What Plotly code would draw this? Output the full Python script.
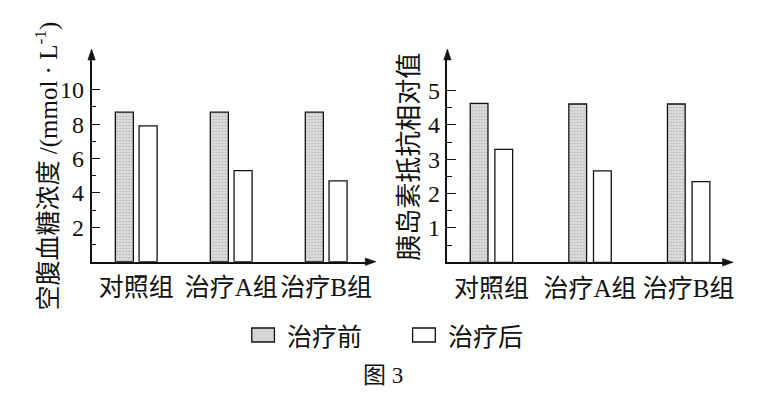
import plotly.graph_objects as go

groups = ["对照组", "治疗A组", "治疗B组"]
series_names = ["治疗前", "治疗后"]
glucose_before = [8.7, 8.7, 8.7]
glucose_after = [7.9, 5.3, 4.7]
insulin_before = [4.63, 4.61, 4.61]
insulin_after = [3.29, 2.66, 2.35]
glucose_ticks = [2, 4, 6, 8, 10]
insulin_ticks = [1, 2, 3, 4, 5]

OFF = 8  # page body margin
W, H = 777 - 2 * OFF, 398 - 2 * OFF
MIX = "Liberation Serif, Noto Sans CJK SC"
CJK = "Noto Sans CJK SC"
INK = "#111"


def px_x(p):
    return (p - OFF) / W


def px_y(p):
    return 1 - (p - OFF) / H


fig = go.Figure()

gray_marker = dict(color="#d4d4d4", line=dict(color=INK, width=1.3),
                   pattern=dict(shape=".", size=3, solidity=0.25, fgcolor="#8a8a8a", bgcolor="#dcdcdc"))
white_marker = dict(color="white", line=dict(color=INK, width=1.3))

fig.add_trace(go.Bar(x=groups, y=glucose_before, name=series_names[0], marker=gray_marker,
                     xaxis="x", yaxis="y", showlegend=False, offsetgroup="a", width=0.19))
fig.add_trace(go.Bar(x=groups, y=glucose_after, name=series_names[1], marker=white_marker,
                     xaxis="x", yaxis="y", showlegend=False, offsetgroup="b", width=0.19))
fig.add_trace(go.Bar(x=groups, y=insulin_before, name=series_names[0], marker=gray_marker,
                     xaxis="x2", yaxis="y2", showlegend=False, offsetgroup="a", width=0.18))
fig.add_trace(go.Bar(x=groups, y=insulin_after, name=series_names[1], marker=white_marker,
                     xaxis="x2", yaxis="y2", showlegend=False, offsetgroup="b", width=0.18))

axis_common = dict(showline=True, linecolor=INK, linewidth=1.5, showgrid=False, zeroline=False)
xtick_font = dict(family=MIX, size=25, color=INK)
ytick_font = dict(family="Liberation Serif", size=24, color=INK)

L_X0, L_X1, L_Y0, L_Y1 = 92.7, 372, 261.7, 58
R_X0, R_X1, R_Y0, R_Y1 = 453.3, 734, 262.3, 58

fig.update_layout(
    width=W, height=H, margin=dict(l=0, r=0, t=0, b=0),
    paper_bgcolor="white", plot_bgcolor="white",
    barmode="group", bargap=0.5, bargroupgap=0.0,
    font=dict(family=MIX, color=INK),
    xaxis=dict(domain=[px_x(L_X0), px_x(L_X1)], range=[-0.47, 2.53 - 0.098], ticks="", ticklabelstandoff=3,
               tickfont=xtick_font, **axis_common),
    yaxis=dict(domain=[px_y(L_Y0), px_y(L_Y1)], range=[0, 11.85], tickvals=glucose_ticks,
               ticks="inside", ticklen=9, tickwidth=1.3, tickcolor=INK, ticklabelstandoff=1,
               tickfont=ytick_font,
               minor=dict(tickvals=[1, 3, 5, 7, 9], ticks="inside", ticklen=5, tickwidth=1.2, tickcolor=INK),
               **axis_common),
    xaxis2=dict(domain=[px_x(R_X0), px_x(R_X1)], range=[-0.446, 2.45 - 0.087], ticks="", ticklabelstandoff=3,
                anchor="y2", tickfont=xtick_font, **axis_common),
    yaxis2=dict(domain=[px_y(R_Y0), px_y(R_Y1)], range=[0, 5.95], tickvals=insulin_ticks, anchor="x2",
                ticks="inside", ticklen=9, tickwidth=1.3, tickcolor=INK, ticklabelstandoff=1,
                tickfont=ytick_font,
                minor=dict(tickvals=[0.5, 1.5, 2.5, 3.5, 4.5], ticks="inside", ticklen=5, tickwidth=1.2, tickcolor=INK),
                **axis_common),
)


def tri(points):
    d = "M " + " L ".join(f"{px_x(x):.5f},{px_y(y):.5f}" for x, y in points) + " Z"
    return d


# axis arrows (triangles)
for (x0, y0, x1, y1) in [(L_X0, L_Y0, L_X1, L_Y1), (R_X0, R_Y0, R_X1, R_Y1)]:
    fig.add_shape(type="path", xref="paper", yref="paper", fillcolor=INK, line=dict(color=INK, width=0.5),
                  path=tri([(x0, y1 - 9), (x0 - 3.8, y1 + 2), (x0 + 3.8, y1 + 2)]))
    fig.add_shape(type="path", xref="paper", yref="paper", fillcolor=INK, line=dict(color=INK, width=0.5),
                  path=tri([(x1 + 9, y0), (x1 - 2, y0 - 3.8), (x1 - 2, y0 + 3.8)]))

# axis titles
fig.add_annotation(x=px_x(47), y=px_y(166), xref="paper", yref="paper", showarrow=False, textangle=-90,
                   xanchor="center", yanchor="middle",
                   text="空腹血糖浓度 /(mmol · L<sup>-1</sup>)", font=dict(family=MIX, size=25, color=INK))
fig.add_annotation(x=px_x(412), y=px_y(157), xref="paper", yref="paper", showarrow=False, textangle=-90,
                   xanchor="center", yanchor="middle",
                   text="胰岛素抵抗相对值", font=dict(family=CJK, size=26, color=INK))

# legend
fig.add_shape(type="rect", xref="paper", yref="paper", x0=px_x(255), x1=px_x(278), y0=px_y(342), y1=px_y(328),
              fillcolor="#d4d4d4", line=dict(color=INK, width=1.3))
fig.add_shape(type="rect", xref="paper", yref="paper", x0=px_x(418), x1=px_x(441), y0=px_y(342), y1=px_y(328),
              fillcolor="white", line=dict(color=INK, width=1.3))
fig.add_annotation(x=px_x(289), y=px_y(335), xref="paper", yref="paper", showarrow=False,
                   xanchor="left", yanchor="middle",
                   text=series_names[0], font=dict(family=CJK, size=25, color=INK))
fig.add_annotation(x=px_x(452), y=px_y(335), xref="paper", yref="paper", showarrow=False,
                   xanchor="left", yanchor="middle",
                   text=series_names[1], font=dict(family=CJK, size=25, color=INK))
fig.add_annotation(x=px_x(388), y=px_y(375), xref="paper", yref="paper", showarrow=False,
                   xanchor="center", yanchor="middle",
                   text="图 3", font=dict(family=MIX, size=23, color=INK))

fig.write_html("out.html")
